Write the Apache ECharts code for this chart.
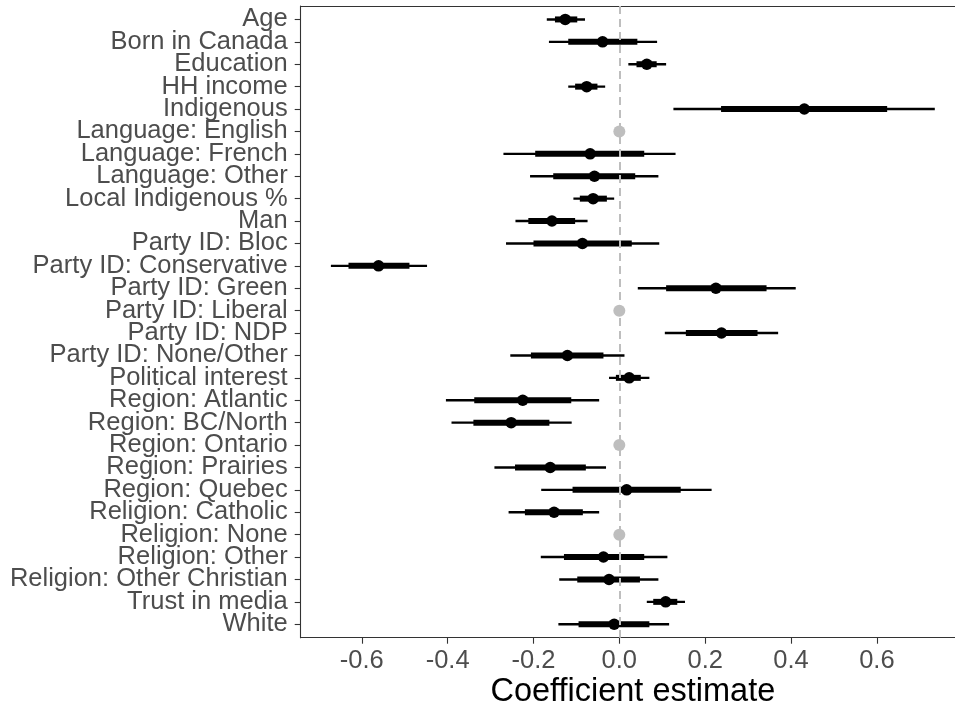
<!DOCTYPE html>
<html>
<head>
<meta charset="utf-8">
<title>Coefficient estimates</title>
<script src="https://cdn.jsdelivr.net/npm/echarts@6/dist/echarts.min.js"></script>
<style>
  html, body { margin: 0; padding: 0; background: #ffffff; overflow: hidden; }
  #chart { width: 955px; height: 706px; }
</style>
</head>
<body>
<div id="chart"></div>
<script>
// Model terms, top to bottom
const terms = [
  "Age", "Born in Canada", "Education", "HH income", "Indigenous",
  "Language: English", "Language: French", "Language: Other",
  "Local Indigenous %", "Man", "Party ID: Bloc", "Party ID: Conservative",
  "Party ID: Green", "Party ID: Liberal", "Party ID: NDP", "Party ID: None/Other",
  "Political interest", "Region: Atlantic", "Region: BC/North", "Region: Ontario",
  "Region: Prairies", "Region: Quebec", "Religion: Catholic", "Religion: None",
  "Religion: Other", "Religion: Other Christian", "Trust in media", "White"
];

// Point estimates (reference categories sit at 0)
const estimate = [
  -0.126, -0.039, 0.064, -0.076, 0.431,
  0, -0.068, -0.058,
  -0.061, -0.157, -0.086, -0.561,
  0.225, 0, 0.238, -0.121,
  0.023, -0.225, -0.252, 0,
  -0.161, 0.017, -0.152, 0,
  -0.037, -0.024, 0.108, -0.012
];

// Reference categories (no interval, drawn in grey)
const isReference = [
  false, false, false, false, false,
  true, false, false,
  false, false, false, false,
  false, true, false, false,
  false, false, false, true,
  false, false, false, true,
  false, false, false, false
];

// Wide interval (thin line)
const outerLow = [
  -0.169, -0.164, 0.021, -0.119, 0.126,
  null, -0.270, -0.208,
  -0.107, -0.242, -0.264, -0.672,
  0.043, null, 0.106, -0.254,
  -0.024, -0.404, -0.391, null,
  -0.291, -0.182, -0.258, null,
  -0.183, -0.140, 0.064, -0.142
];
const outerHigh = [
  -0.080, 0.088, 0.109, -0.033, 0.735,
  null, 0.131, 0.091,
  -0.012, -0.074, 0.093, -0.448,
  0.411, null, 0.370, 0.012,
  0.070, -0.047, -0.111, null,
  -0.031, 0.215, -0.047, null,
  0.112, 0.091, 0.153, 0.116
];

// Narrow interval (thick line)
const innerLow = [
  -0.150, -0.119, 0.040, -0.103, 0.237,
  null, -0.196, -0.154,
  -0.092, -0.212, -0.200, -0.631,
  0.109, null, 0.155, -0.206,
  -0.008, -0.338, -0.340, null,
  -0.243, -0.109, -0.220, null,
  -0.129, -0.098, 0.079, -0.095
];
const innerHigh = [
  -0.098, 0.042, 0.087, -0.051, 0.624,
  null, 0.058, 0.037,
  -0.029, -0.103, 0.029, -0.489,
  0.343, null, 0.322, -0.037,
  0.050, -0.112, -0.163, null,
  -0.078, 0.143, -0.085, null,
  0.058, 0.048, 0.135, 0.070
];

// x-axis tick labels
const xTicks = [-0.6, -0.4, -0.2, 0.0, 0.2, 0.4, 0.6];

// x limits: data range padded by 5% on each side
const lows = outerLow.filter(v => v !== null);
const highs = outerHigh.filter(v => v !== null);
const dataMin = Math.min(...lows), dataMax = Math.max(...highs);
const pad = (dataMax - dataMin) * 0.05;
const xMin = dataMin - pad, xMax = dataMax + pad;

// y limits: rows padded by 0.6 of a row on each side
const yPad = 0.6;
const yMin = -yPad, yMax = terms.length - 1 + yPad;

const intervalData = [];
const pointData = [];
const refData = [];
terms.forEach((t, i) => {
  if (isReference[i]) {
    refData.push([estimate[i], i]);
  } else {
    intervalData.push([outerLow[i], outerHigh[i], innerLow[i], innerHigh[i], i]);
    pointData.push([estimate[i], i]);
  }
});

// Panel geometry
const panel = { left: 300.7, top: 6, width: 664.3, height: 631.7 };
const rowStep = panel.height / (yMax - yMin);
// A category grid whose band centres sit on the row positions, used for the term labels
const labelGrid = {
  left: panel.left, width: panel.width,
  top: panel.top + (yPad - 0.5) * rowStep,
  height: terms.length * rowStep
};

const labelFont = 'Liberation Sans, Arial, sans-serif';
const textGrey = '#4D4D4D';
const borderGrey = '#333333';
const frameLine = { show: true, onZero: false, lineStyle: { color: borderGrey, width: 1.1 } };

const chart = echarts.init(document.getElementById('chart'), null, { renderer: 'canvas' });

chart.setOption({
  animation: false,
  backgroundColor: '#ffffff',
  grid: [
    Object.assign({ outerBoundsMode: 'none', show: false, containLabel: false }, panel),
    Object.assign({ outerBoundsMode: 'none', show: false, containLabel: false }, labelGrid)
  ],
  xAxis: [
    {
      type: 'value',
      gridIndex: 0,
      position: 'bottom',
      min: xMin, max: xMax,
      splitLine: { show: false },
      axisLine: frameLine,
      axisTick: { show: true, length: 6, lineStyle: { color: borderGrey, width: 1.1 }, customValues: xTicks },
      axisLabel: {
        customValues: xTicks,
        hideOverlap: false,
        formatter: v => v.toFixed(1),
        color: textGrey, fontSize: 25.5, fontFamily: labelFont, margin: 10
      },
      name: 'Coefficient estimate',
      nameLocation: 'middle',
      nameGap: 54,
      nameMoveOverlap: false,
      nameTextStyle: { color: '#000000', fontSize: 32.5, fontFamily: labelFont, verticalAlign: 'middle' }
    },
    {
      // top edge of the panel frame
      type: 'value',
      gridIndex: 0,
      position: 'top',
      min: xMin, max: xMax,
      splitLine: { show: false },
      axisLine: frameLine,
      axisTick: { show: false },
      axisLabel: { show: false }
    },
    {
      type: 'value',
      gridIndex: 1,
      show: false,
      min: xMin, max: xMax
    }
  ],
  yAxis: [
    {
      type: 'value',
      gridIndex: 0,
      inverse: true,
      min: yMin, max: yMax,
      splitLine: { show: false },
      axisLine: frameLine,
      axisTick: { show: false },
      axisLabel: { show: false }
    },
    {
      type: 'category',
      gridIndex: 1,
      position: 'left',
      inverse: true,
      data: terms,
      splitLine: { show: false },
      axisLine: { show: false, onZero: false },
      axisTick: { show: true, alignWithLabel: true, interval: 0, length: 6, lineStyle: { color: borderGrey, width: 1.1 } },
      axisLabel: {
        interval: 0,
        hideOverlap: false,
        color: textGrey, fontSize: 25.5, fontFamily: labelFont, margin: 13
      }
    }
  ],
  series: [
    {
      // dashed reference line at zero
      type: 'scatter',
      xAxisIndex: 0, yAxisIndex: 0,
      data: [],
      z: 1,
      silent: true,
      markLine: {
        silent: true,
        symbol: 'none',
        label: { show: false },
        lineStyle: { color: '#BEBEBE', width: 2, type: [8, 5] },
        data: [{ xAxis: 0 }]
      }
    },
    {
      type: 'custom',
      xAxisIndex: 0, yAxisIndex: 0,
      z: 3,
      silent: true,
      data: intervalData,
      encode: { x: [0, 1, 2, 3], y: 4 },
      renderItem: function (params, api) {
        const row = api.value(4);
        const a = api.coord([api.value(0), row]);
        const b = api.coord([api.value(1), row]);
        const c = api.coord([api.value(2), row]);
        const d = api.coord([api.value(3), row]);
        return {
          type: 'group',
          children: [
            { type: 'line', shape: { x1: a[0], y1: a[1], x2: b[0], y2: b[1] },
              style: { stroke: '#000000', lineWidth: 2.4 } },
            { type: 'line', shape: { x1: c[0], y1: c[1], x2: d[0], y2: d[1] },
              style: { stroke: '#000000', lineWidth: 6 } }
          ]
        };
      }
    },
    {
      type: 'scatter',
      xAxisIndex: 0, yAxisIndex: 0,
      z: 4,
      silent: true,
      data: pointData,
      symbol: 'circle',
      symbolSize: 11.5,
      itemStyle: { color: '#000000', opacity: 1 }
    },
    {
      type: 'scatter',
      xAxisIndex: 0, yAxisIndex: 0,
      z: 4,
      silent: true,
      data: refData,
      symbol: 'circle',
      symbolSize: 12,
      itemStyle: { color: '#BEBEBE', opacity: 1 }
    }
  ]
});
</script>
</body>
</html>
